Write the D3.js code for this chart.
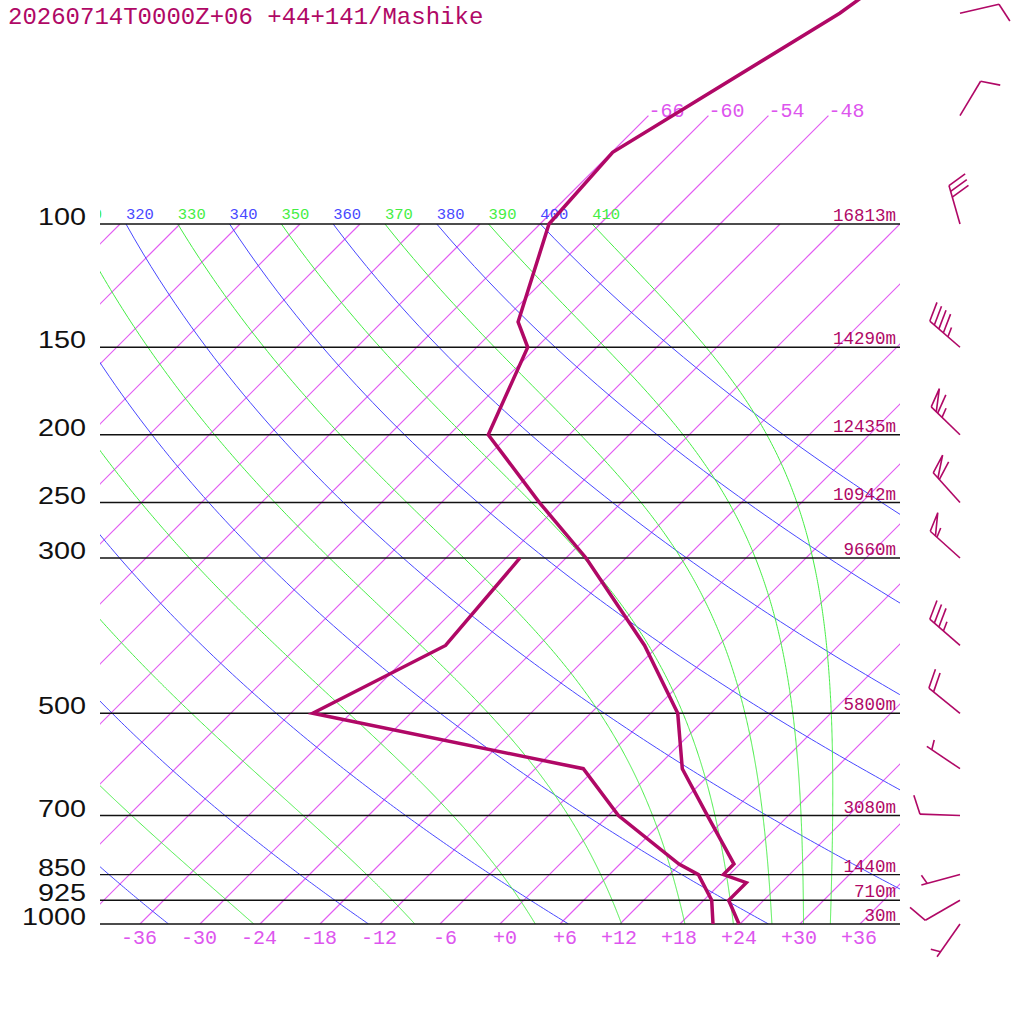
<!DOCTYPE html>
<html>
<head>
<meta charset="utf-8">
<script src="https://cdn.jsdelivr.net/npm/d3@7"></script>
<style>
  html, body { margin: 0; padding: 0; background: #ffffff; }
  svg { display: block; }
</style>
</head>
<body>
<svg id="chart" width="1024" height="1024"></svg>
<script>
// ---------------- DATA ----------------
const titleText = "20260714T0000Z+06 +44+141/Mashike";

const pressureLevels = [100, 150, 200, 250, 300, 500, 700, 850, 925, 1000];
const pressureLabels = ["100", "150", "200", "250", "300", "500", "700", "850", "925", "1000"];
const heightLabels = ["16813m", "14290m", "12435m", "10942m", "9660m", "5800m", "3080m", "1440m", "710m", "30m"];

const tempTicks = [-36, -30, -24, -18, -12, -6, 0, 6, 12, 18, 24, 30, 36];
const tempTickLabels = ["-36", "-30", "-24", "-18", "-12", "-6", "+0", "+6", "+12", "+18", "+24", "+30", "+36"];
const stratoTicks = [-66, -60, -54, -48];
const stratoTickLabels = ["-66", "-60", "-54", "-48"];

const dryThetas = [240, 260, 280, 300, 320, 340, 360, 380, 400];
const moistThetas = [250, 270, 290, 310, 330, 350, 370, 390, 410];

// temperature profile (hPa, degC)
const tempP = [1000, 925, 873, 850, 821, 700, 600, 500, 400, 300, 250, 200, 150, 138, 100, 79, 50, 30];
const tempC = [23.9, 20.5, 20.5, 17.4, 17.4, 9.9, 2.7, -3.3, -13.4, -28.0, -38.2, -50.1, -54.9, -58.4, -65.1, -65.9, -57.1, -51.2];

// dew point profile (hPa, degC)
const dewP = [1000, 925, 850, 821, 700, 600, 500, 400, 300];
const dewC = [21.3, 18.8, 14.9, 11.9, 1.0, -7.2, -39.8, -33.3, -34.6];

// winds (hPa, direction deg, speed kt)
const windP = [1000, 925, 850, 700, 600, 500, 400, 300, 250, 200, 150, 100, 70, 50];
const windDir = [215, 240, 255, 272, 304, 309, 311, 312, 318, 314, 311, 344, 31, 77];
const windKt = [5, 10, 5, 10, 5, 20, 35, 55, 60, 65, 45, 30, 10, 10];

// ---------------- STYLE ----------------
const COL_TRACE = "rgb(176,8,102)";
const COL_ISO = "rgb(226,92,242)";
const COL_ISO_TXT = "rgb(221,85,238)";
const COL_DRY = "rgb(72,72,255)";
const COL_MOIST = "rgb(68,238,68)";
const MONO = "'Liberation Mono', 'DejaVu Sans Mono', monospace";
const SANS = "'Liberation Sans', Arial, sans-serif";

// ---------------- SCALES ----------------
const svg = d3.select("#chart");
const yP = d3.scaleLog().domain([1000, 100]).range([924, 224]);
const xT = d3.scaleLinear().domain([-40, 40]).range([100, 900]);
const y0 = yP(1000);
const skewX = (T, p) => xT(T) + (y0 - yP(p));

const plotLeft = 100, plotRight = 900, plotTop = yP(100), plotBottom = yP(1000);

const defs = svg.append("defs");
defs.append("clipPath").attr("id", "plotClip")
  .append("rect").attr("x", plotLeft).attr("y", plotTop)
  .attr("width", plotRight - plotLeft).attr("height", plotBottom - plotTop);
defs.append("clipPath").attr("id", "labelClip")
  .append("rect").attr("x", plotLeft).attr("y", 0)
  .attr("width", 1024 - plotLeft).attr("height", 1024);

const pathGen = d3.line().x(d => d[0]).y(d => d[1]);

// ---------------- BACKGROUND LINES ----------------
const bg = svg.append("g").attr("clip-path", "url(#plotClip)");

// isotherms
const isoTemps = d3.range(-120, 37, 6);
bg.selectAll("path.iso").data(isoTemps).enter().append("path")
  .attr("class", "iso")
  .attr("d", t => pathGen([[skewX(t, 1000), yP(1000)], [skewX(t, 100), yP(100)]]))
  .attr("fill", "none").attr("stroke", COL_ISO).attr("stroke-width", 1.2)
  .style("stroke", COL_ISO);

// dry adiabats
const kappa = 0.2857;
const pGrid = d3.range(100, 1000.1, 5);
function dryPath(theta) {
  return pGrid.map(p => [skewX(theta * Math.pow(p / 1000, kappa) - 273.15, p), yP(p)]);
}
bg.selectAll("path.dry").data(dryThetas).enter().append("path")
  .attr("class", "dry")
  .attr("d", th => pathGen(dryPath(th)))
  .style("fill", "none").style("stroke", COL_DRY).style("stroke-width", "1px");

// moist (pseudo) adiabats, started at 100 hPa from the labelled theta
const Rd = 287.04, Cp = 1005.7, Lv = 2.501e6, eps = 0.622;
function dTdp(T, p) {
  const es = 6.112 * Math.exp(17.67 * (T - 273.15) / (T - 29.65));
  const rs = eps * es / (p - es);
  const num = Rd * T + Lv * rs;
  const den = Cp + (Lv * Lv * rs * eps) / (Rd * T * T);
  return num / den / p;
}
function moistPath(theta) {
  let T = theta * Math.pow(0.1, kappa);
  const pts = [[skewX(T - 273.15, 100), yP(100)]];
  const dp = 2;
  for (let p = 100; p < 1000 - 1e-9; p += dp) {
    const k1 = dTdp(T, p);
    const k2 = dTdp(T + 0.5 * dp * k1, p + 0.5 * dp);
    const k3 = dTdp(T + 0.5 * dp * k2, p + 0.5 * dp);
    const k4 = dTdp(T + dp * k3, p + dp);
    T += dp / 6 * (k1 + 2 * k2 + 2 * k3 + k4);
    pts.push([skewX(T - 273.15, p + dp), yP(p + dp)]);
  }
  return pts;
}
bg.selectAll("path.moist").data(moistThetas).enter().append("path")
  .attr("class", "moist")
  .attr("d", th => pathGen(moistPath(th)))
  .style("fill", "none").style("stroke", COL_MOIST).style("stroke-width", "1px");

// stratospheric isotherm extensions (100 -> 70 hPa)
svg.selectAll("path.strato").data(stratoTicks).enter().append("path")
  .attr("class", "strato")
  .attr("d", t => pathGen([[skewX(t, 100), yP(100)], [skewX(t, 70), yP(70)]]))
  .attr("fill", "none").attr("stroke", COL_ISO).attr("stroke-width", 1.2)
  .style("stroke", COL_ISO);
svg.selectAll("text.strato").data(stratoTicks).enter().append("text")
  .attr("class", "strato")
  .attr("x", t => skewX(t, 70)).attr("y", yP(70) + 1)
  .attr("font-family", MONO).attr("font-size", 20).style("fill", COL_ISO_TXT)
  .text((t, i) => stratoTickLabels[i]);

// theta labels at 100 hPa (only where they reach the plot)
const lblG = svg.append("g").attr("clip-path", "url(#labelClip)");
const thetaLabels = [];
dryThetas.forEach(th => thetaLabels.push({ th, col: COL_DRY }));
moistThetas.forEach(th => thetaLabels.push({ th, col: COL_MOIST }));
const thetaX = th => skewX(th * Math.pow(0.1, kappa) - 273.15, 100);
lblG.selectAll("text.theta").data(thetaLabels.filter(d => thetaX(d.th) > 60)).enter().append("text")
  .attr("class", "theta")
  .attr("x", d => thetaX(d.th))
  .attr("y", yP(100) - 5)
  .attr("font-family", MONO).attr("font-size", 15.5).style("fill", d => d.col)
  .text(d => String(d.th));

// ---------------- PRESSURE LINES ----------------
svg.selectAll("path.plev").data(pressureLevels).enter().append("path")
  .attr("class", "plev")
  .attr("d", p => pathGen([[plotLeft, yP(p)], [plotRight, yP(p)]]))
  .style("fill", "none").style("stroke", "#111").style("stroke-width", "1.4px");

svg.selectAll("text.plab").data(pressureLevels).enter().append("text")
  .attr("class", "plab")
  .attr("x", 86).attr("y", p => yP(p) + 1)
  .attr("text-anchor", "end")
  .attr("font-family", SANS).attr("font-size", 23).style("fill", "#111")
  .attr("textLength", (p, i) => 16 * pressureLabels[i].length)
  .attr("lengthAdjust", "spacingAndGlyphs")
  .text((p, i) => pressureLabels[i]);

svg.selectAll("text.hlab").data(pressureLevels).enter().append("text")
  .attr("class", "hlab")
  .attr("x", 896).attr("y", p => yP(p) - 3)
  .attr("text-anchor", "end")
  .attr("font-family", MONO).attr("font-size", 17.5).style("fill", COL_TRACE)
  .text((p, i) => heightLabels[i]);

// temperature tick labels
svg.selectAll("text.tlab").data(tempTicks).enter().append("text")
  .attr("class", "tlab")
  .attr("x", t => xT(t) + 17).attr("y", 944)
  .attr("text-anchor", "end")
  .attr("font-family", MONO).attr("font-size", 20).style("fill", COL_ISO_TXT)
  .text((t, i) => tempTickLabels[i]);

// ---------------- PROFILES ----------------
const tempPts = tempP.map((p, i) => [skewX(tempC[i], p), yP(p)]);
const dewPts = dewP.map((p, i) => [skewX(dewC[i], p), yP(p)]);
svg.append("path").attr("d", pathGen(tempPts))
  .style("fill", "none").style("stroke", COL_TRACE).style("stroke-width", "3.5px")
  .style("stroke-linejoin", "miter");
svg.append("path").attr("d", pathGen(dewPts))
  .style("fill", "none").style("stroke", COL_TRACE).style("stroke-width", "3.5px")
  .style("stroke-linejoin", "miter");

// ---------------- WIND BARBS ----------------
const barbG = svg.append("g");
const staffLen = 40, featherLen = 20, spacing = 6, rot = 70 * Math.PI / 180;
function barbPath(pts) {
  barbG.append("path").attr("d", pathGen(pts))
    .style("fill", "none").style("stroke", COL_TRACE).style("stroke-width", "1.6px");
}
windP.forEach((p, i) => {
  const bx = 960, by = yP(p);
  const d = windDir[i] * Math.PI / 180;
  const ux = Math.sin(d), uy = -Math.cos(d);
  const fx = ux * Math.cos(rot) - uy * Math.sin(rot);
  const fy = ux * Math.sin(rot) + uy * Math.cos(rot);
  const at = s => [bx + ux * s, by + uy * s];
  barbPath([[bx, by], at(staffLen)]);
  let spd = Math.round(windKt[i] / 5) * 5;
  const nPen = Math.floor(spd / 50); spd -= nPen * 50;
  const nFull = Math.floor(spd / 10); spd -= nFull * 10;
  const nHalf = spd >= 5 ? 1 : 0;
  let s = staffLen;
  for (let k = 0; k < nPen; k++) {
    const a = at(s), b = at(s - 7);
    barbPath([a, [a[0] + fx * featherLen, a[1] + fy * featherLen], b]);
    s -= 9;
  }
  if (nPen === 0 && nFull === 0 && nHalf === 1) s -= spacing;
  for (let k = 0; k < nFull; k++) {
    const a = at(s);
    barbPath([a, [a[0] + fx * featherLen, a[1] + fy * featherLen]]);
    s -= spacing;
  }
  if (nHalf) {
    const a = at(s);
    barbPath([a, [a[0] + fx * featherLen / 2, a[1] + fy * featherLen / 2]]);
  }
});

// ---------------- TITLE ----------------
svg.append("text").attr("x", 8).attr("y", 24)
  .attr("font-family", MONO).attr("font-size", 24).style("fill", COL_TRACE)
  .text(titleText);
</script>
</body>
</html>
